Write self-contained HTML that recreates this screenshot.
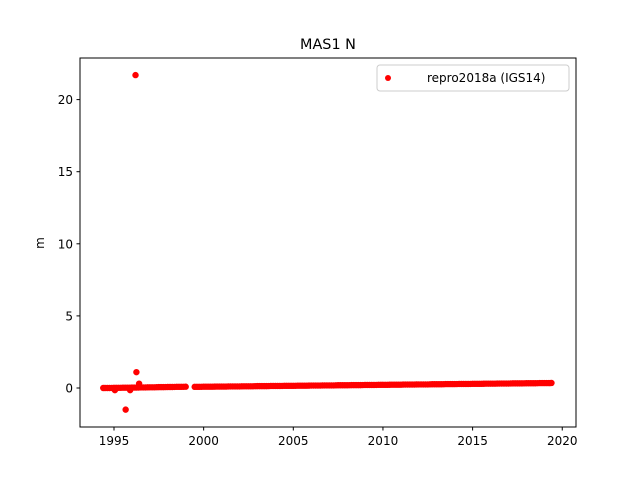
<!DOCTYPE html>
<html><head><meta charset="utf-8"><style>
html,body{margin:0;padding:0;background:#fff;}
svg{display:block;font-family:"DejaVu Sans","Liberation Sans",sans-serif;}
</style></head><body>
<svg id="chart" width="640" height="480" viewBox="0 0 640 480">
<rect width="640" height="480" fill="#fff"/>
<text x="328" y="49" text-anchor="middle" font-size="14.4">MAS1 N</text>
<g id="marks"></g>
<rect x="80" y="58" width="496" height="369" fill="none" stroke="#000" stroke-width="1"/>
<g id="xticks"></g>
<g id="yticks"></g>
<text x="44" y="243" text-anchor="middle" font-size="12" transform="rotate(-90 44 243)">m</text>
<g>
<rect x="377" y="65" width="192" height="26" rx="3" fill="#fff" stroke="#ccc"/>
<circle cx="388" cy="78" r="3" fill="#ff0000"/>
<text x="427" y="82" font-size="12">repro2018a (IGS14)</text>
</g>
</svg>
<script>
const xTickLabels=[1995,2000,2005,2010,2015,2020];
const yTickLabels=[0,5,10,15,20];
const years=[1994.5,1994.75,1995,1995.25,1995.5,1995.75,1996,1996.25,1996.5,1996.75,1997,1997.25,1997.5,1997.75,1998,1998.25,1998.5,1998.75,1999,
1999.5,1999.75,
2000,2000.25,2000.5,2000.75,2001,2001.25,2001.5,2001.75,2002,2002.25,2002.5,2002.75,2003,2003.25,2003.5,2003.75,2004,2004.25,2004.5,2004.75,
2005,2005.25,2005.5,2005.75,2006,2006.25,2006.5,2006.75,2007,2007.25,2007.5,2007.75,2008,2008.25,2008.5,2008.75,2009,2009.25,2009.5,2009.75,
2010,2010.25,2010.5,2010.75,2011,2011.25,2011.5,2011.75,2012,2012.25,2012.5,2012.75,2013,2013.25,2013.5,2013.75,2014,2014.25,2014.5,2014.75,
2015,2015.25,2015.5,2015.75,2016,2016.25,2016.5,2016.75,2017,2017.25,2017.5,2017.75,2018,2018.25,2018.5,2018.75,2019,2019.25,2019.4];
const values=[0.00,0.00,0.01,0.01,0.02,0.02,0.03,0.03,0.04,0.04,0.05,0.05,0.06,0.06,0.07,0.07,0.08,0.08,0.09,
0.08,0.08,
0.09,0.09,0.09,0.10,0.10,0.10,0.11,0.11,0.11,0.12,0.12,0.12,0.13,0.13,0.13,0.14,0.14,0.14,0.15,0.15,
0.15,0.16,0.16,0.16,0.17,0.17,0.17,0.18,0.18,0.18,0.19,0.19,0.19,0.20,0.20,0.20,0.21,0.21,0.21,0.22,
0.22,0.22,0.23,0.23,0.23,0.24,0.24,0.24,0.25,0.25,0.25,0.26,0.26,0.26,0.27,0.27,0.27,0.28,0.28,0.28,
0.29,0.29,0.29,0.30,0.30,0.30,0.31,0.31,0.31,0.32,0.32,0.32,0.33,0.33,0.33,0.34,0.34,0.34,0.35];
const outlierYears=[1994.4,1995.05,1995.65,1995.9,1996.2,1996.25,1996.4];
const outlierValues=[0.0,-0.15,-1.5,-0.15,21.7,1.1,0.3];
const NS="http://www.w3.org/2000/svg";
function xs(y){return 114+(y-1995)*17.93;}
function ys(v){return 388-v*14.42;}
const marks=document.getElementById('marks');
function dot(yr,v){
  const c=document.createElementNS(NS,'circle');
  c.setAttribute('cx',xs(yr));c.setAttribute('cy',ys(v));c.setAttribute('r',3.2);c.setAttribute('fill','#ff0000');
  
  
  marks.appendChild(c);
}
for(let i=0;i<years.length;i++){
  dot(years[i],values[i]);
  if(i+1<years.length&&years[i+1]-years[i]<0.3){dot((years[i]+years[i+1])/2,(values[i]+values[i+1])/2);}
}
for(let i=0;i<outlierYears.length;i++)dot(outlierYears[i],outlierValues[i]);
const xg=document.getElementById('xticks');
xTickLabels.forEach(t=>{
  const l=document.createElementNS(NS,'line');
  l.setAttribute('x1',xs(t));l.setAttribute('x2',xs(t));l.setAttribute('y1',427);l.setAttribute('y2',430.5);l.setAttribute('stroke','#000');
  
  
  xg.appendChild(l);
  const tx=document.createElementNS(NS,'text');
  tx.setAttribute('x',xs(t));tx.setAttribute('y',445);tx.setAttribute('text-anchor','middle');tx.setAttribute('font-size','12');
  tx.textContent=t;
  
  
  xg.appendChild(tx);
});
const yg=document.getElementById('yticks');
yTickLabels.forEach(t=>{
  const l=document.createElementNS(NS,'line');
  l.setAttribute('x1',76.5);l.setAttribute('x2',80);l.setAttribute('y1',ys(t));l.setAttribute('y2',ys(t));l.setAttribute('stroke','#000');
  
  
  yg.appendChild(l);
  const tx=document.createElementNS(NS,'text');
  tx.setAttribute('x',73);tx.setAttribute('y',ys(t)+4.5);tx.setAttribute('text-anchor','end');tx.setAttribute('font-size','12');
  tx.textContent=t;
  
  
  yg.appendChild(tx);
});
</script>
</body></html>
